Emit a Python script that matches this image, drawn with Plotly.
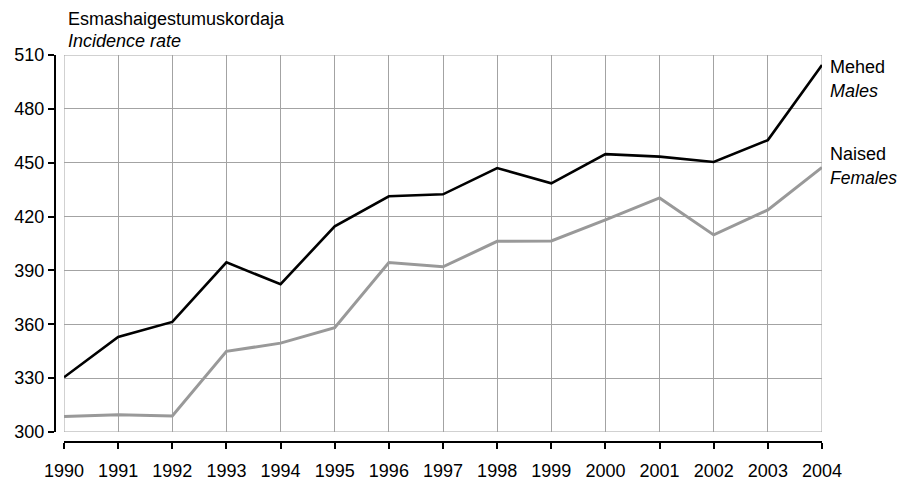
import plotly.graph_objects as go

years = list(range(1990, 2005))
males = [330.5, 352.9, 361.3, 394.5, 382.3, 414.6, 431.3, 432.4, 447.0, 438.5, 454.8, 453.4, 450.4, 462.6, 504.4]
females = [308.6, 309.6, 308.9, 344.9, 349.5, 358.1, 394.4, 392.0, 406.2, 406.4, 418.2, 430.4, 409.8, 423.7, 447.4]
y_ticks = [300, 330, 360, 390, 420, 450, 480, 510]
title_et = "Esmashaigestumuskordaja"
title_en = "Incidence rate"
series_et = ["Mehed", "Naised"]
series_en = ["Males", "Females"]

OFF = 8  # default page body margin
W, H = 908 - OFF, 481 - OFF
ML, MR, MT, MB = 55 - OFF, 86, 55 - OFF, 39
pw, ph = W - ML - MR, H - MT - MB

def px(x):
    return (x - OFF - ML) / pw

def py(y):
    return (H - MB - (y - OFF)) / ph

FONT = "Liberation Sans, Arial, sans-serif"
GRID = "#a3a3a3"
FS = 18

fig = go.Figure()
fig.add_trace(go.Scatter(x=years, y=males, mode="lines",
                         line=dict(color="#000000", width=2.6), name=series_en[0]))
fig.add_trace(go.Scatter(x=years, y=females, mode="lines",
                         line=dict(color="#999999", width=3), name=series_en[1]))

fig.add_shape(type="rect", xref="x", yref="y",
              x0=years[0], x1=years[-1], y0=y_ticks[0], y1=y_ticks[-1],
              line=dict(color=GRID, width=1), layer="below")

fig.update_layout(
    width=W, height=H,
    margin=dict(l=ML, r=MR, t=MT, b=MB, pad=0, autoexpand=False),
    paper_bgcolor="white", plot_bgcolor="white",
    showlegend=False,
    font=dict(family=FONT, size=FS, color="#000000"),
    xaxis=dict(domain=[9 / pw, 1], range=[years[0], years[-1]],
               tickmode="array", tickvals=years, ticktext=[str(y) for y in years],
               anchor="free", position=0, automargin=False,
               showline=True, linecolor="#000000", linewidth=2,
               ticks="outside", ticklen=6, tickwidth=2, tickcolor="#000000",
               ticklabelstandoff=6,
               showgrid=True, gridcolor=GRID, gridwidth=1, zeroline=False,
               tickfont=dict(size=FS)),
    yaxis=dict(domain=[10 / ph, 1], range=[y_ticks[0], y_ticks[-1]],
               tickmode="array", tickvals=y_ticks,
               anchor="free", position=0, automargin=False,
               showline=True, linecolor="#000000", linewidth=2,
               ticks="outside", ticklen=6, tickwidth=2, tickcolor="#000000",
               showgrid=True, gridcolor=GRID, gridwidth=1, zeroline=False,
               tickfont=dict(size=FS)),
)

ann = [
    (title_et, 66, 19, False, FS),
    (title_en, 66, 41, True, FS),
    (series_et[0], 828, 67, False, FS),
    (series_en[0], 828, 91, True, FS),
    (series_et[1], 828, 154, False, FS),
    (series_en[1], 828, 178, True, 17.5),
]
for text, x, y, it, fs in ann:
    fig.add_annotation(text=f"<i>{text}</i>" if it else text,
                       xref="paper", yref="paper", x=px(x), y=py(y),
                       xanchor="left", yanchor="middle", showarrow=False,
                       font=dict(family=FONT, size=fs, color="#000000"))

fig.write_html("out.html")
